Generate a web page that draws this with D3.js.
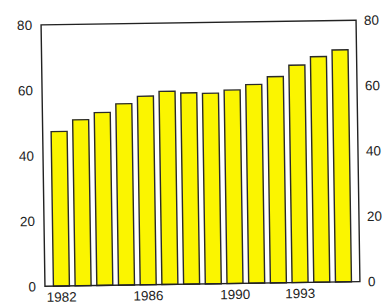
<!DOCTYPE html>
<html lang="en">
<head>
<meta charset="UTF-8">
<script src="https://d3js.org/d3.v7.min.js"></script>
<style>
  body { margin: 0; background: #fff; }
  text { font-family: "Liberation Sans", Arial, sans-serif; fill: #222; }
</style>
</head>
<body>
<div id="chart"></div>
<script>
// data
const years = [1982, 1983, 1984, 1985, 1986, 1987, 1988, 1989, 1990, 1991, 1992, 1993, 1994, 1995];
const values = [47.3, 50.8, 52.9, 55.5, 57.7, 59.1, 58.5, 58.3, 59.2, 60.8, 63.1, 66.5, 69, 71];
const yTicks = [0, 20, 40, 60, 80];
const xLabels = [1982, 1986, 1990, 1993];

const W = 382, H = 304;
const plotLeft = 43, plotRight = 358, plotTop = 22.5, plotBottom = 284;

const svg = d3.select('#chart').append('svg')
    .attr('width', W)
    .attr('height', H);

// the scanned original sits slightly tilted
const g = svg.append('g')
    .attr('transform', 'rotate(-0.85,200,153)');

const x = d3.scaleBand()
    .domain(years)
    .range([plotLeft, plotRight])
    .paddingInner(0.263)
    .paddingOuter(0.39);

const y = d3.scaleLinear()
    .domain([0, 80])
    .range([plotBottom, plotTop]);

// bars
g.selectAll('.bar')
    .data(years)
    .enter().append('rect')
    .attr('class', 'bar')
    .attr('x', (d) => x(d))
    .attr('y', (d, i) => y(values[i]))
    .attr('width', x.bandwidth())
    .attr('height', (d, i) => y(0) - y(values[i]))
    .attr('fill', '#fbf500')
    .attr('stroke', '#2a2a2a')
    .attr('stroke-width', 1.4);

// frame
g.append('rect')
    .attr('x', plotLeft)
    .attr('y', plotTop)
    .attr('width', plotRight - plotLeft)
    .attr('height', plotBottom - plotTop)
    .attr('fill', 'none')
    .attr('stroke', '#222')
    .attr('stroke-width', 1.4);

// left axis
const axL = g.append('g')
    .attr('transform', 'translate(' + plotLeft + ',0)')
    .call(d3.axisLeft(y).tickValues(yTicks).tickSize(0).tickPadding(9));
axL.select('.domain').remove();

// right axis
const axR = g.append('g')
    .attr('transform', 'translate(' + plotRight + ',0)')
    .call(d3.axisRight(y).tickValues(yTicks).tickSize(0).tickPadding(8));
axR.select('.domain').remove();

// bottom axis
const axB = g.append('g')
    .attr('transform', 'translate(0,' + plotBottom + ')')
    .call(d3.axisBottom(x).tickValues(xLabels).tickSize(0).tickPadding(6));
axB.select('.domain').remove();

g.selectAll('.tick text')
    .style('font-size', '13.5px')
    .attr('fill', '#222');
</script>
</body>
</html>
